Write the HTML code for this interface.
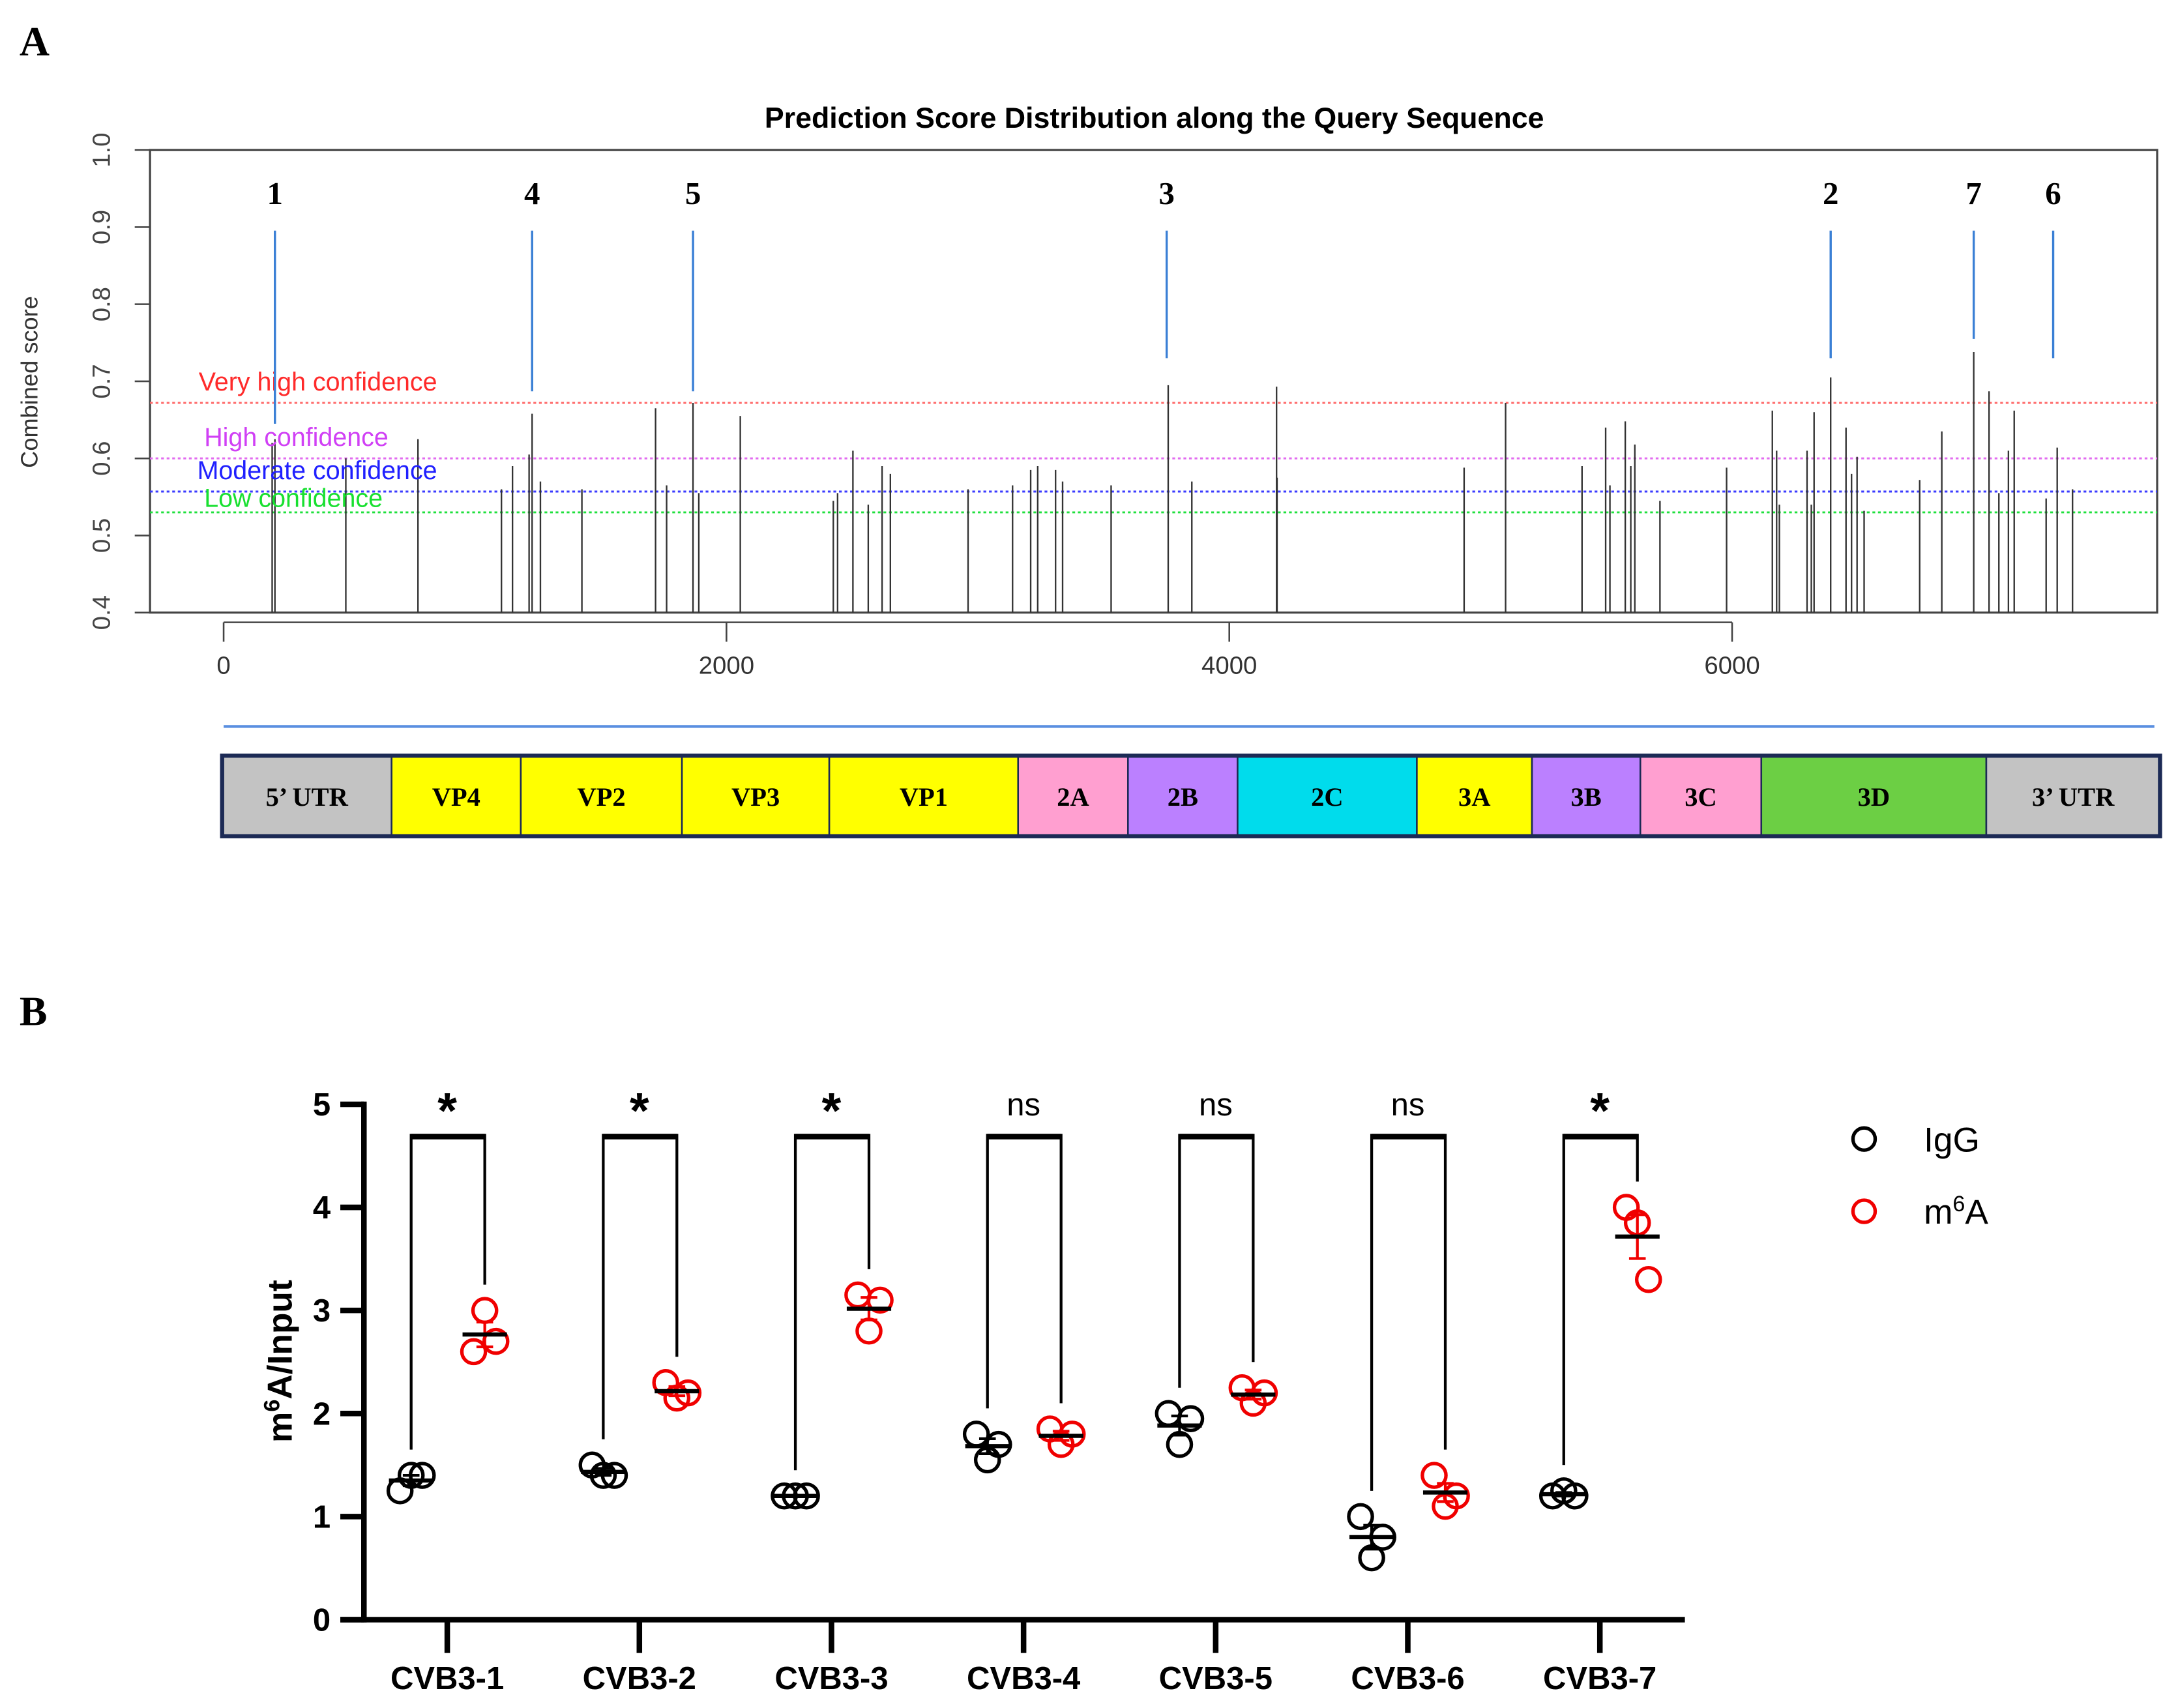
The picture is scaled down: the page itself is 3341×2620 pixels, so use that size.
<!DOCTYPE html>
<html><head><meta charset="utf-8">
<style>
html,body{margin:0;padding:0;background:#fff;}
svg{display:block;}
text{font-family:"Liberation Sans",sans-serif;}
.serif{font-family:"Liberation Serif",serif;font-weight:bold;}
</style></head>
<body>
<svg id="fig" width="3341" height="2620" viewBox="0 0 1568 1229.6" xmlns="http://www.w3.org/2000/svg">
<rect width="1568" height="1230" fill="#fff"/>
<text class="serif" x="14" y="40" font-size="30">A</text>
<text class="serif" x="14" y="738" font-size="30">B</text>
<text x="831" y="92" font-size="21" font-weight="bold" text-anchor="middle">Prediction Score Distribution along the Query Sequence</text>
<text transform="translate(27,275) rotate(-90)" font-size="17" fill="#333" text-anchor="middle">Combined score</text>
<g id="a"></g>
<g id="b"></g>
</svg>
<script>
// ---- Panel A data ----
const spikePos=[193,204,486,773,1105,1149,1215,1227,1260,1425,1718,1762,1867,1890,2055,2425,2442,2503,2564,2619,2652,2961,3138,3210,3238,3309,3337,3530,3757,3851,4188,4190,4934,5099,5403,5497,5514,5575,5597,5613,5713,5978,6160,6177,6188,6298,6315,6326,6392,6453,6475,6497,6525,6746,6834,6961,7022,7061,7099,7122,7249,7293,7354];
const spikeScore=[0.62,0.625,0.60,0.625,0.56,0.59,0.605,0.658,0.57,0.56,0.665,0.565,0.672,0.555,0.655,0.545,0.555,0.61,0.54,0.59,0.58,0.56,0.565,0.585,0.59,0.585,0.57,0.565,0.695,0.57,0.693,0.575,0.588,0.672,0.59,0.64,0.565,0.648,0.59,0.618,0.545,0.588,0.662,0.61,0.54,0.61,0.54,0.66,0.705,0.64,0.58,0.602,0.532,0.572,0.635,0.738,0.687,0.555,0.61,0.662,0.548,0.614,0.56];
const yTicksA=[0.4,0.5,0.6,0.7,0.8,0.9,1.0];
const xTicksA=[0,2000,4000,6000];
const thresholds=[0.672,0.60,0.557,0.53];
const thresholdLabels=["Very high confidence","High confidence","Moderate confidence","Low confidence"];
const siteLabels=["1","4","5","3","2","7","6"];
const sitePos=[204,1227,1867,3751,6392,6961,7277];
const siteEnd=[0.645,0.687,0.687,0.73,0.73,0.755,0.73];
const genes=["5’ UTR","VP4","VP2","VP3","VP1","2A","2B","2C","3A","3B","3C","3D","3’ UTR"];
const geneStart=[-6,668,1182,1823,2409,3160,3597,4033,4746,5204,5635,6116,7011];
const geneEnd=[668,1182,1823,2409,3160,3597,4033,4746,5204,5635,6116,7011,7702];
const geneColors=["#c3c3c3","#ffff00","#ffff00","#ffff00","#ffff00","#ff9fd0","#bb80ff","#00dcec","#ffff00","#bb80ff","#ff9fd0","#6ccf44","#c3c3c3"];
// ---- Panel B data ----
const categories=["CVB3-1","CVB3-2","CVB3-3","CVB3-4","CVB3-5","CVB3-6","CVB3-7"];
const igg=[[1.25,1.4,1.4],[1.5,1.4,1.4],[1.2,1.2,1.2],[1.8,1.55,1.7],[2.0,1.7,1.95],[1.0,0.6,0.8],[1.2,1.25,1.2]];
const m6a=[[2.6,3.0,2.7],[2.3,2.15,2.2],[3.15,2.8,3.1],[1.85,1.7,1.8],[2.25,2.1,2.2],[1.4,1.1,1.2],[4.0,3.85,3.3]];
const sig=["*","*","*","ns","ns","ns","*"];
const yTicksB=[0,1,2,3,4,5];

const NS="http://www.w3.org/2000/svg";
function mk(p,tag,at,txt){const e=document.createElementNS(NS,tag);for(const k in at)e.setAttribute(k,at[k]);if(txt!==undefined)e.textContent=txt;p.appendChild(e);return e;}
const A=document.getElementById('a'),B=document.getElementById('b');
const xA=v=>161+v*0.181;
const yA=v=>441-(v-0.4)/0.6*333;
let e;
e=mk(A,'rect',{x:108,y:108,width:1445,height:333,fill:'none',stroke:'#444','stroke-width':1.5});


yTicksA.forEach(t=>{
 e=mk(A,'line',{x1:97,x2:108,y1:yA(t),y2:yA(t),stroke:'#444','stroke-width':1.2});
 
 
 e=mk(A,'text',{transform:`translate(79,${yA(t)}) rotate(-90)`,'font-size':18,fill:'#444','text-anchor':'middle'},t.toFixed(1));
 
 
});
xTicksA.forEach(t=>{
 e=mk(A,'line',{x1:xA(t),x2:xA(t),y1:448,y2:462,stroke:'#444','stroke-width':1.2});
 
 
 e=mk(A,'text',{x:xA(t),y:485,'font-size':18,fill:'#333','text-anchor':'middle'},String(t));
 
 
});
e=mk(A,'line',{x1:xA(0),x2:xA(6000),y1:448,y2:448,stroke:'#444','stroke-width':1.2});


const thrColors=["#ff6b6b","#e26cf0","#3b3bff","#1ee03c"];
const thrText=["#ff2a2a","#d040f5","#2020ff","#18e030"];
const thrLabelX=[143,147,142,147];
const thrLabelDy=[-9,-9,-9,-4];
thresholds.forEach((t,i)=>{
 e=mk(A,'line',{x1:108,x2:1553,y1:yA(t),y2:yA(t),stroke:thrColors[i],'stroke-width':1.4,'stroke-dasharray':'2,2'});
 
 
});
spikePos.forEach((p,i)=>{
 e=mk(A,'line',{x1:xA(p),x2:xA(p),y1:441,y2:yA(spikeScore[i]),stroke:'#333','stroke-width':1.1});
 
 
});
thresholds.forEach((t,i)=>{
 e=mk(A,'text',{x:thrLabelX[i],y:yA(t)+thrLabelDy[i],'font-size':18.5,fill:thrText[i]},thresholdLabels[i]);
 
 
});
sitePos.forEach((p,i)=>{
 e=mk(A,'line',{x1:xA(p),x2:xA(p),y1:166,y2:yA(siteEnd[i]),stroke:'#3a7fd5','stroke-width':1.6});
 
 
 e=mk(A,'text',{x:xA(p),y:147,'font-size':23,'text-anchor':'middle',class:'serif'},siteLabels[i]);
 
 
});
e=mk(A,'line',{x1:161,x2:1551,y1:523,y2:523,stroke:'#5a8fe0','stroke-width':2});


genes.forEach((g,i)=>{
 const x0=xA(geneStart[i]),x1=xA(geneEnd[i]);
 e=mk(A,'rect',{x:x0,y:544,width:x1-x0,height:58,fill:geneColors[i],stroke:'#1c2a55','stroke-width':1.2});
 
 
 e=mk(A,'text',{x:(x0+x1)/2,y:580,'font-size':19,'text-anchor':'middle',class:'serif'},g);
 
 
});
e=mk(A,'rect',{x:xA(geneStart[0]),y:544,width:xA(geneEnd[12])-xA(geneStart[0]),height:58,fill:'none',stroke:'#1c2a55','stroke-width':3});



// Panel B
const yB=v=>1166-v*74.2;
const cx=i=>322+i*138.3;
e=mk(B,'line',{x1:262,x2:262,y1:yB(5)-2,y2:1168,stroke:'#000','stroke-width':4});


e=mk(B,'line',{x1:245,x2:1213,y1:1166,y2:1166,stroke:'#000','stroke-width':4});


yTicksB.forEach(t=>{
 e=mk(B,'line',{x1:245,x2:262,y1:yB(t),y2:yB(t),stroke:'#000','stroke-width':4});
 
 
 e=mk(B,'text',{x:238,y:yB(t)+8,'font-size':23,'font-weight':'bold','text-anchor':'end'},String(t));
 
 
});
e=mk(B,'text',{transform:'translate(210,980) rotate(-90)','font-size':25,'font-weight':'bold','text-anchor':'middle'});


e.innerHTML='m<tspan baseline-shift="super" font-size="16">6</tspan>A/Input';
const jit=[-8,0,8];
function group(vals,x,col,nm){
 vals.forEach((v,k)=>{
  e=mk(B,'circle',{cx:x+jit[k],cy:yB(v),r:8.5,fill:'none',stroke:col,'stroke-width':2.5});
  
  
 });
 const m=vals.reduce((a,b)=>a+b,0)/vals.length;
 const sd=Math.sqrt(vals.reduce((a,b)=>a+(b-m)*(b-m),0)/(vals.length-1));
 const se=sd/Math.sqrt(vals.length);
 e=mk(B,'line',{x1:x,x2:x,y1:yB(m-se),y2:yB(m+se),stroke:col,'stroke-width':2});
 
 
 [m-se,m+se].forEach(q=>{mk(B,'line',{x1:x-6,x2:x+6,y1:yB(q),y2:yB(q),stroke:col,'stroke-width':2});});
 e=mk(B,'line',{x1:x-16,x2:x+16,y1:yB(m),y2:yB(m),stroke:'#000','stroke-width':3});
 
 
}
categories.forEach((c,i)=>{
 const x=cx(i),xl=x-26,xr=x+27;
 e=mk(B,'line',{x1:x,x2:x,y1:1166,y2:1190,stroke:'#000','stroke-width':4});
 
 
 e=mk(B,'text',{x:x,y:1216,'font-size':23,'font-weight':'bold','text-anchor':'middle'},c);
 
 
 group(igg[i],xl,'#000','igg');
 group(m6a[i],xr,'#f00000','m6a');
 const top=yB(4.7);
 const ll=yB(Math.max(...igg[i])+0.25),lr=yB(Math.max(...m6a[i])+0.25);
 e=mk(B,'path',{d:`M${xl},${ll} V${top} H${xr} V${lr}`,fill:'none',stroke:'#000','stroke-width':2});
 
 
 mk(B,'line',{x1:xl,x2:xr,y1:top+1,y2:top+1,stroke:'#000','stroke-width':4});
 e=mk(B,'text',{x:x,y:sig[i]=='*'?812:803,'font-size':sig[i]=='*'?36:23,'font-weight':sig[i]=='*'?'bold':'normal','text-anchor':'middle'},sig[i]);
 
 
});
e=mk(B,'circle',{cx:1342,cy:820,r:8,fill:'none',stroke:'#000','stroke-width':2.5});


e=mk(B,'text',{x:1385,y:829,'font-size':25},'IgG');


e=mk(B,'circle',{cx:1342,cy:872,r:8,fill:'none',stroke:'#f00000','stroke-width':2.5});


e=mk(B,'text',{x:1385,y:881,'font-size':25});


e.innerHTML='m<tspan baseline-shift="super" font-size="16">6</tspan>A';
</script>
</body></html>
